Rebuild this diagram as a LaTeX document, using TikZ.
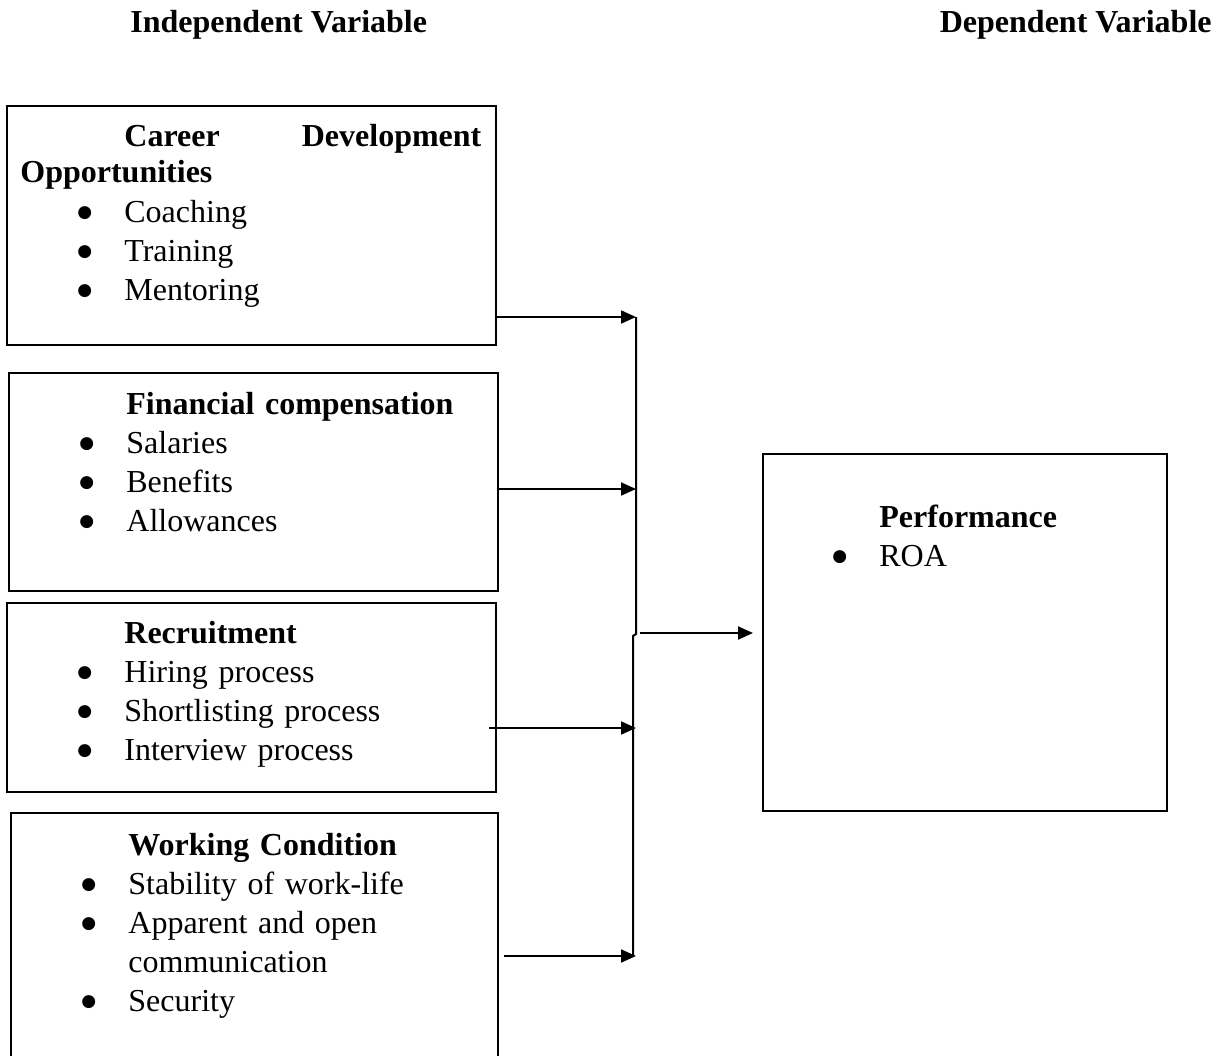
\documentclass[tikz,border=0pt]{standalone}
\usepackage{fontspec}
\setmainfont{Liberation Serif}
\newfontfamily\dotfont{DejaVu Sans}
\usepackage{tikz}
\usetikzlibrary{positioning, arrows.meta, calc}

\newcommand{\bul}[1]{\hspace*{28.5pt}\makebox[23.5pt][l]{\raisebox{2.3pt}{\dotfont\fontsize{8.5}{8.5}\selectfont ●}}#1}
\newcommand{\ttl}[1]{\hspace*{52pt}\textbf{#1}}

\begin{document}
\begin{tikzpicture}[x=0.5pt, y=-0.5pt,
    box/.style={draw, line width=1pt, inner sep=0pt},
    txt/.style={anchor=base west, inner sep=0pt, align=left, text width=235pt, font=\fontsize{16}{19.5}\selectfont},
    head/.style={inner sep=0pt, font=\fontsize{16}{19.5}\selectfont\bfseries},
    arr/.style={line width=1pt, -{Triangle[length=7.5pt, width=6.5pt]}},
    bus/.style={line width=1pt}]
    \useasboundingbox (0,0) rectangle (1223,1056);

    % Headings
    \node[head, anchor=base west] (hInd) at (130,32) {Independent Variable};
    \node[head, anchor=base east] (hDep) at (1212,32) {Dependent Variable};

    % Independent variables
    \node[box, minimum width=244.5pt, minimum height=119.5pt] (bCareer) at (251.5,225.5) {};
    \node[txt] (tCareer) at (20,146) {\hspace*{52pt}\makebox[178.5pt][l]{\textbf{Career}\hfill\textbf{Development}}\\[-1.5pt]
        \textbf{Opportunities}\\[0.5pt] \bul{Coaching}\\ \bul{Training}\\ \bul{Mentoring}};

    \node[box, minimum width=244.5pt, minimum height=109pt] (bFin) at (253.5,482) {};
    \node[txt] (tFin) at (22,414) {\ttl{Financial compensation}\\ \bul{Salaries}\\ \bul{Benefits}\\ \bul{Allowances}};

    \node[box, minimum width=244.5pt, minimum height=94.5pt] (bRec) at (251.5,697.5) {};
    \node[txt] (tRec) at (20,643) {\ttl{Recruitment}\\ \bul{Hiring process}\\ \bul{Shortlisting process}\\ \bul{Interview process}};

    \node[box, minimum width=243.5pt, minimum height=123.5pt] (bWork) at (254.5,936.5) {};
    \node[txt] (tWork) at (24,855) {\ttl{Working Condition}\\ \bul{Stability of work-life}\\ \bul{Apparent and open}\\
        \hspace*{52pt}communication\\ \bul{Security}};

    % Dependent variable
    \node[box, minimum width=202pt, minimum height=178.5pt] (bPerf) at (965,632.5) {};
    \node[txt] (tPerf) at (775,527) {\ttl{Performance}\\ \bul{ROA}};

    % Connectors
    \coordinate (j1) at (636,317);
    \coordinate (j2) at (636,489);
    \coordinate (j3) at (636,728);
    \coordinate (j4) at (636,956);
    \coordinate (hub) at (640,633);
    \draw[arr] (bCareer.east |- j1) -- (j1);
    \draw[arr] (bFin.east |- j2) -- (j2);
    \draw[arr] ([xshift=-4pt]bRec.east |- j3) -- (j3);
    \draw[arr] ([xshift=2.5pt]bWork.east |- j4) -- (j4);
    \draw[bus] (j1) -- (636,634) -- (633,636) -- (633,956);
    \draw[arr] (hub) -- ([xshift=-4.5pt]bPerf.west |- hub);
\end{tikzpicture}
\end{document}
